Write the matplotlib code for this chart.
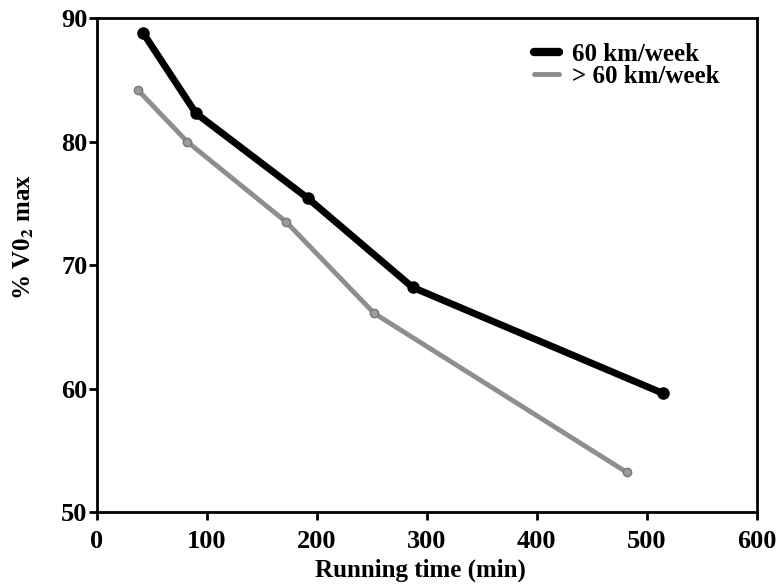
import matplotlib
matplotlib.use('Agg')

import matplotlib.pyplot as plt

time_low = [42, 90, 192, 287, 515]
vo2_low = [88.8, 82.3, 75.4, 68.2, 59.6]

time_high = [37, 82, 172, 252, 482]
vo2_high = [84.2, 80.0, 73.5, 66.1, 53.2]

labels = ["60 km/week", "> 60 km/week"]

plt.rcParams['font.family'] = ['Liberation Serif', 'DejaVu Serif']
plt.rcParams['font.weight'] = 'bold'
plt.rcParams['mathtext.fontset'] = 'stix'

fig = plt.figure(figsize=(7.78, 5.85), dpi=100)
ax = fig.add_axes([0.1247, 0.1248, 0.848, 0.844])

ax.plot(time_low, vo2_low, color='black', lw=5, marker='o', ms=8,
        label=labels[0], solid_capstyle='round')
ax.plot(time_high, vo2_high, color='#8e8e8e', lw=3.5, marker='o', ms=6,
        mfc='#9a9a9a', mec='#777777', label=labels[1], solid_capstyle='round')

ax.set_xlim(0, 600)
ax.set_ylim(50, 90)
ax.set_xticks(range(0, 601, 100))
ax.set_yticks(range(50, 91, 10))
ax.tick_params(direction='out', length=6, width=2, labelsize=19)
ax.tick_params(axis='x', pad=7)
ax.tick_params(axis='y', pad=1)
for lab in ax.get_xticklabels() + ax.get_yticklabels():
    lab.set_fontweight('bold')
for s in ax.spines.values():
    s.set_linewidth(2)

ax.set_xlabel("Running time (min)", fontsize=18, fontweight='bold')
ax.set_ylabel(r"% V0$_\mathbf{2}$ max", fontsize=18, fontweight='bold')
ax.xaxis.set_label_coords(0.49, -0.095)
ax.yaxis.set_label_coords(-0.093, 0.557)

leg = ax.legend(loc='upper left', bbox_to_anchor=(0.663, 0.95), frameon=False,
                fontsize=18, handlelength=1.0, handletextpad=0.5,
                labelspacing=-0.05, borderpad=0, borderaxespad=0)
for h in leg.get_lines():
    h.set_marker('')
leg.get_lines()[0].set_linewidth(6)
leg.get_lines()[1].set_linewidth(3.5)

fig.savefig('out.png', dpi=100)
